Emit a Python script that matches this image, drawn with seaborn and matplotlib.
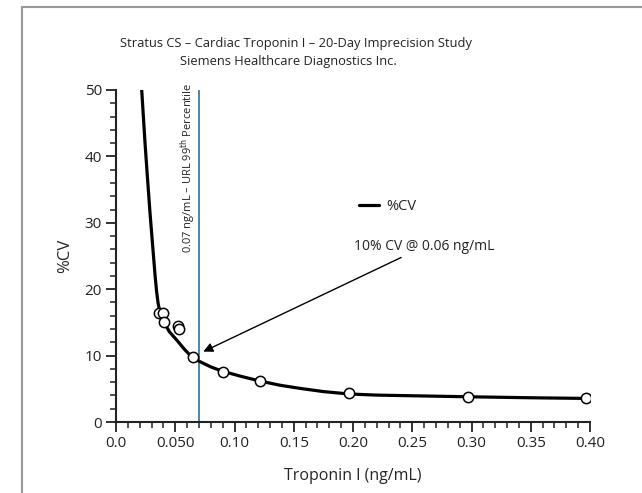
import matplotlib
matplotlib.use("Agg")
import matplotlib.pyplot as plt
import matplotlib.lines as mlines
from matplotlib.ticker import MultipleLocator, FixedLocator, FixedFormatter
import seaborn as sns
import pandas as pd

# --- data ---
curve_x = [0.0217, 0.0245, 0.0267, 0.0287, 0.031, 0.0330, 0.0343, 0.0355, 0.037,
           0.040, 0.045, 0.0512, 0.058, 0.065, 0.0709, 0.080, 0.0892, 0.105,
           0.1215, 0.138, 0.155, 0.175, 0.1966, 0.22, 0.25, 0.297, 0.35, 0.397]
curve_y = [50, 42, 36.4, 31.5, 26.4, 22.0, 19.6, 17.9, 16.6,
           15.2, 13.6, 12.35, 10.9, 9.6, 9.08, 8.3, 7.68, 6.9,
           6.17, 5.55, 5.07, 4.58, 4.22, 4.05, 3.95, 3.8, 3.65, 3.55]

point_x = [0.0366, 0.040, 0.0405, 0.0523, 0.0534, 0.0653, 0.090, 0.1215, 0.197, 0.297, 0.397]
point_y = [16.4, 16.4, 15.0, 14.5, 14.0, 9.8, 7.6, 6.2, 4.3, 3.8, 3.55]

url_99th = 0.07
x_ticks = [0.0, 0.05, 0.10, 0.15, 0.20, 0.25, 0.30, 0.35, 0.40]
x_tick_labels = ["0.0", "0.050", "0.10", "0.15", "0.20", "0.25", "0.30", "0.35", "0.40"]

title_lines = ["Stratus CS \u2013 Cardiac Troponin I \u2013 20-Day Imprecision Study",
               "Siemens Healthcare Diagnostics Inc."]

curve = pd.DataFrame({"x": curve_x, "y": curve_y})
points = pd.DataFrame({"x": point_x, "y": point_y})

sns.set_style("ticks")
plt.rcParams["font.family"] = ["Open Sans", "DejaVu Sans"]
plt.rcParams["text.color"] = "#222222"

fig = plt.figure(figsize=(6.42, 4.93), dpi=100)
ax = fig.add_axes([116 / 642, 1 - 422 / 493, 474 / 642, 332 / 493])

# outer frame (left + top)
fig.add_artist(mlines.Line2D([22 / 642, 22 / 642], [0, 1 - 7 / 493],
                             color="#999999", lw=1.5, transform=fig.transFigure))
fig.add_artist(mlines.Line2D([22 / 642, 1], [1 - 7 / 493, 1 - 7 / 493],
                             color="#999999", lw=1.5, transform=fig.transFigure))

ax.axvline(url_99th, color="#3b7fa3", lw=1.3, zorder=1)

sns.lineplot(data=curve, x="x", y="y", ax=ax, color="black", lw=2.3,
             sort=False, label="%CV", zorder=2)
sns.scatterplot(data=points, x="x", y="y", ax=ax, s=55, color="white",
                edgecolor="black", linewidth=1.1, zorder=3)

ax.set_xlim(0, 0.4)
ax.set_ylim(0, 50)
ax.xaxis.set_major_locator(FixedLocator(x_ticks))
ax.xaxis.set_major_formatter(FixedFormatter(x_tick_labels))
ax.xaxis.set_minor_locator(MultipleLocator(0.01))
ax.yaxis.set_major_locator(MultipleLocator(10))
ax.yaxis.set_minor_locator(MultipleLocator(2))
ax.tick_params(which="major", length=7, width=1.3, labelsize=11, colors="#222222",
               pad=3)
ax.tick_params(which="minor", length=4, width=1.1, colors="#222222")
for s in ["top", "right"]:
    ax.spines[s].set_visible(False)
for s in ["left", "bottom"]:
    ax.spines[s].set_linewidth(1.5)
    ax.spines[s].set_color("#222222")

ax.set_xlabel("Troponin I (ng/mL)", fontsize=11.5, labelpad=12)
ax.set_ylabel("%CV", fontsize=12, labelpad=8)

ax.text(0.0608, 25.5, "0.07 ng/mL \u2013 URL 99$^{\\rm th}$ Percentile", rotation=90,
        ha="center", va="bottom", fontsize=8)

ax.annotate("10% CV @ 0.06 ng/mL", xy=(0.0737, 10.6), xytext=(0.2005, 26.4),
            fontsize=10, va="center", ha="left",
            arrowprops=dict(arrowstyle="-|>", color="black", lw=1.0,
                            mutation_scale=14, shrinkA=0, shrinkB=0))

ax.legend(loc="center left", bbox_to_anchor=(0.485, 0.65), frameon=False,
          handlelength=1.4, handletextpad=0.5, fontsize=10.5)

fig.text(296 / 642, 1 - 43 / 493, title_lines[0], ha="center", va="center", fontsize=9.3)
fig.text(288 / 642, 1 - 62 / 493, title_lines[1], ha="center", va="center", fontsize=9.3)

fig.savefig("out.png", dpi=100)
